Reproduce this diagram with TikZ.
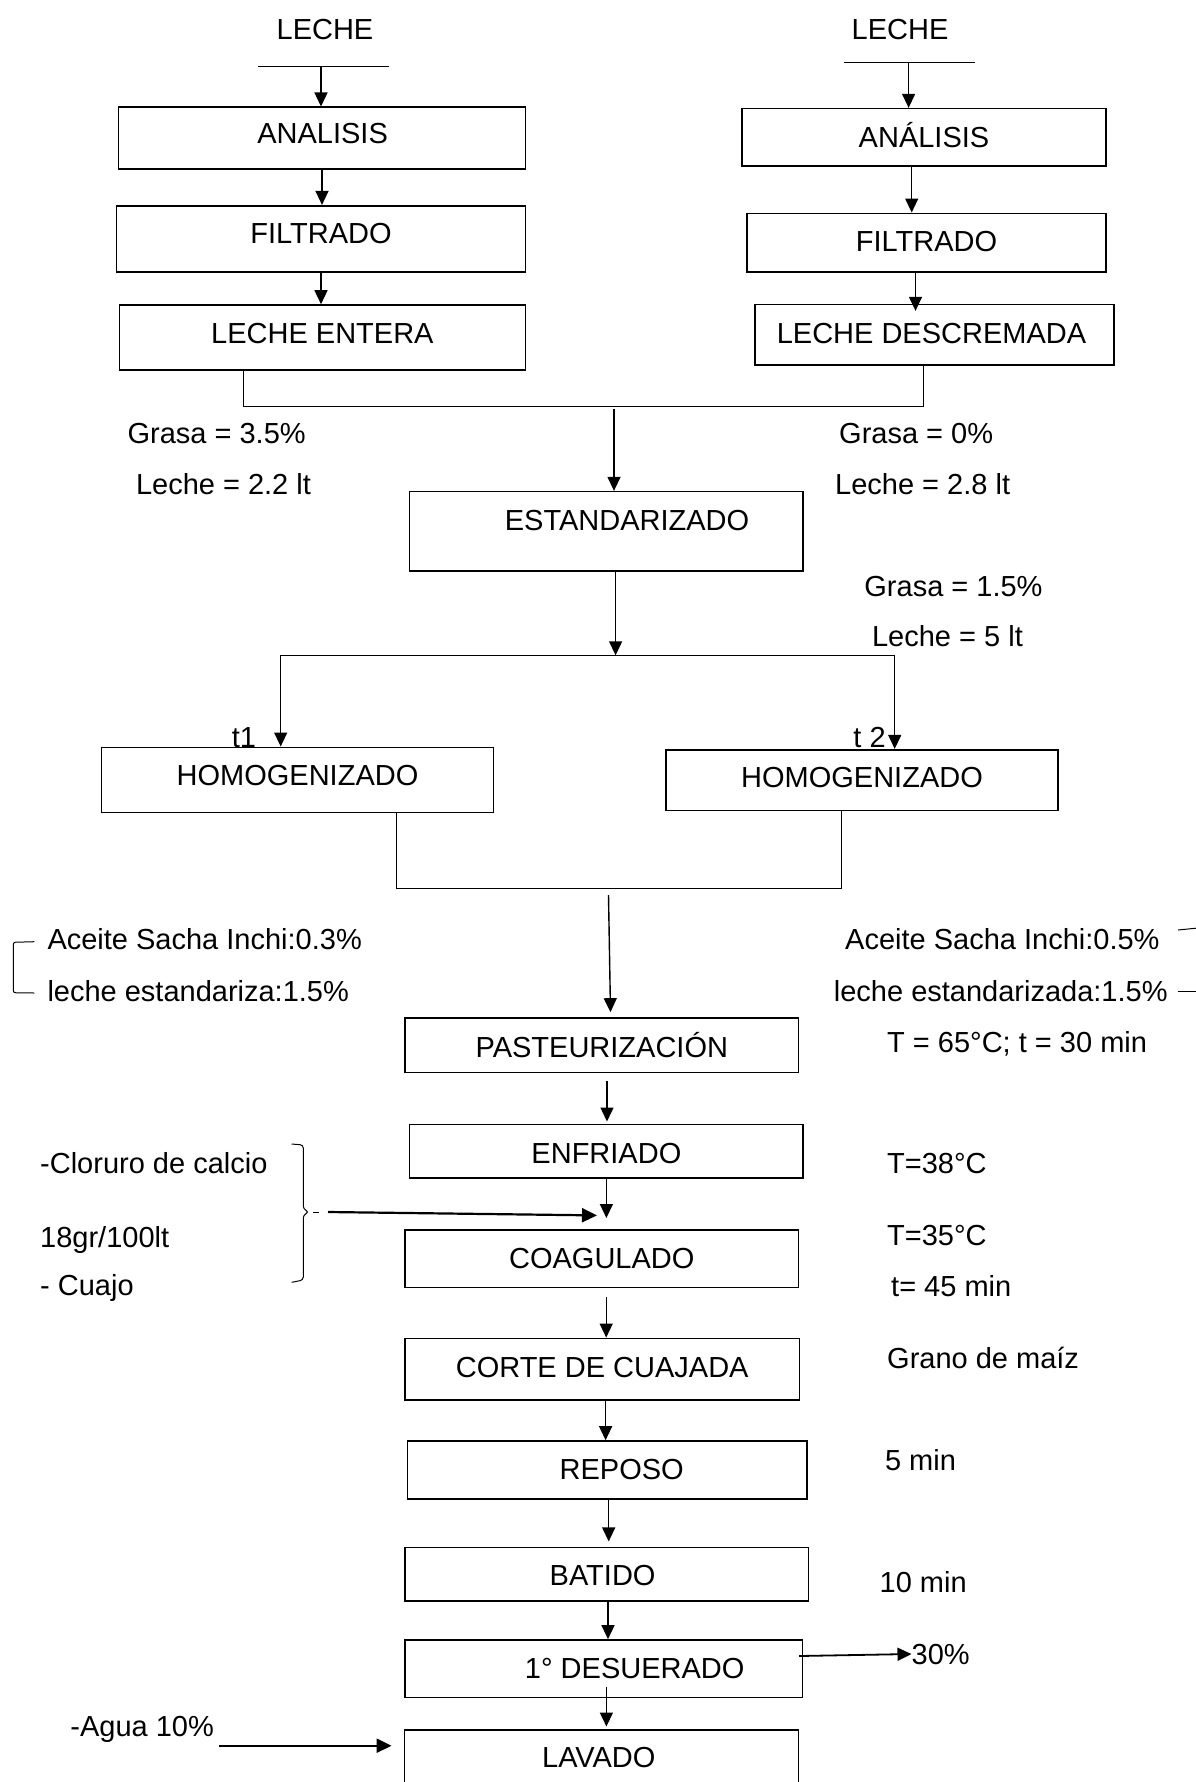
\documentclass[tikz,border=0pt]{standalone}
\usepackage{fontspec}
\setmainfont{Liberation Sans}
\usetikzlibrary{arrows.meta}
\newcommand\flowfont{\fontsize{29}{34}\selectfont}

\begin{document}
\begin{tikzpicture}[x=1pt,y=-1pt,
  stepbox/.style={draw,line width=1.6pt,inner sep=0pt},
  txt/.style={inner sep=0pt,text height=21pt,text depth=0pt,font=\flowfont},
  every label/.style={txt},
  arr/.style={-{Triangle[length=14pt,width=13pt]},line width=1.4pt},
  bigarr/.style={-{Triangle[length=15pt,width=14pt]},line width=2.2pt},
  thinl/.style={line width=1pt}]
  \useasboundingbox (0,0) rectangle (1196,1782);

  % two milks
  \node[txt] (lec1) at (325,29.3) {LECHE};
  \node[txt] (lec2) at (900,29.3) {LECHE};
  \coordinate (in1) at (321,66.7);
  \coordinate (in2) at (908.6,62.7);
  \draw[thinl] (258,66.7) -- (389,66.7);
  \draw[thinl] (843.6,62.7) -- (975,62.7);

  \node[stepbox,minimum width=407pt,minimum height=61.4pt,label={[xshift=0.6pt,yshift=4.7pt]center:ANALISIS}] (ana1) at (322,138) {};
  \node[stepbox,minimum width=408.7pt,minimum height=66pt,label={[yshift=5.4pt]center:FILTRADO}] (fil1) at (321,238.7) {};
  \node[stepbox,minimum width=406pt,minimum height=65pt,label={[yshift=4.2pt]center:LECHE ENTERA}] (ent1) at (322.4,337.5) {};
  \node[stepbox,minimum width=364pt,minimum height=57.3pt,label={[yshift=0.6pt]center:ANÁLISIS}] (ana2) at (924,137.3) {};
  \node[stepbox,minimum width=359pt,minimum height=58.4pt,label={[yshift=1.8pt]center:FILTRADO}] (fil2) at (926.5,242.5) {};
  \node[stepbox,minimum width=359pt,minimum height=60.3pt,label={[xshift=-3pt,yshift=1.5pt]center:LECHE DESCREMADA}] (des2) at (934.5,334.8) {};

  \draw[arr] (in1) -- (in1 |- ana1.north);
  \draw[arr] (ana1.south) -- (ana1.south |- fil1.north);
  \draw[arr] (fil1.south) -- (fil1.south |- ent1.north);
  \draw[arr] (in2) -- (in2 |- ana2.north);
  \draw[arr] ([xshift=-12.3pt]ana2.south) -- ([xshift=-14.8pt]fil2.north);
  \draw[arr] ([xshift=-11pt]fil2.south) -- ([xshift=-19pt,yshift=-7pt]des2.north);

  % standardizing
  \coordinate (j1) at (243.8,406.5);
  \coordinate (j2) at (923,406.5);
  \coordinate (jm) at (614,409);
  \draw[thinl] (ent1.south -| j1) -- (j1) -- (j2) -- (des2.south -| j2);
  \node[txt,anchor=west] (g1) at (127.4,433.3) {Grasa = 3.5\%};
  \node[txt,anchor=west] (l1) at (135.8,484) {Leche = 2.2 lt};
  \node[txt,anchor=west] (g2) at (839,433.3) {Grasa = 0\%};
  \node[txt,anchor=west] (l2) at (835,484) {Leche = 2.8 lt};
  \node[stepbox,minimum width=393.6pt,minimum height=79.3pt,label={[xshift=20.6pt,yshift=11.3pt]center:ESTANDARIZADO}] (est) at (606.4,531.3) {};
  \draw[arr] (jm) -- (jm |- est.north);
  \node[txt,anchor=west] (g3) at (864.2,585.7) {Grasa = 1.5\%};
  \node[txt,anchor=west] (l3) at (871.9,636) {Leche = 5 lt};

  % homogenizing
  \coordinate (sl) at (280.7,655.3);
  \coordinate (sr) at (894.7,655.3);
  \coordinate (sm) at (615.6,655.3);
  \node[stepbox,minimum width=392pt,minimum height=65pt,label={[yshift=4.8pt]center:HOMOGENIZADO}] (hom1) at (297.5,779.8) {};
  \node[stepbox,minimum width=392pt,minimum height=60.6pt,label={[yshift=2.7pt]center:HOMOGENIZADO}] (hom2) at (862,780) {};
  \draw[arr] (est.south -| sm) -- (sm);
  \draw[line width=1.2pt] (sl) -- (sr);
  \draw[arr] (sl) -- (sl |- hom1.north);
  \draw[arr] (sr) -- (sr |- hom2.north);
  \node[txt] (t1) at (244,736.7) {t1};
  \node[txt] (t2) at (869.6,736.7) {t 2};
  \coordinate (m1) at (396,888);
  \coordinate (m2) at (841.4,888);
  \coordinate (mm) at (608.5,895);
  \draw[thinl] (hom1.south -| m1) -- (m1) -- (m2) -- (hom2.south -| m2);

  \node[txt,anchor=west] (ac1) at (47.3,939.3) {Aceite Sacha Inchi:0.3\%};
  \node[txt,anchor=west] (le1) at (47.3,990.7) {leche estandariza:1.5\%};
  \node[txt,anchor=west] (ac2) at (845,939.3) {Aceite Sacha Inchi:0.5\%};
  \node[txt,anchor=west] (le2) at (833.7,990.7) {leche estandarizada:1.5\%};
  \draw[thinl,rounded corners=2pt] (34.3,941.7) -- (13.3,942.3) -- (13.3,992.7) -- (34.3,993);
  \draw[thinl] (1178,930) -- (1198,928);
  \draw[thinl] (1178,991) -- (1198,991);

  % main line
  \node[stepbox,minimum width=393.6pt,minimum height=54.7pt,label={[yshift=-1.4pt]center:PASTEURIZACIÓN}] (pas) at (601.8,1045.3) {};
  \node[stepbox,minimum width=393.6pt,minimum height=53.4pt,label={[yshift=-2.3pt]center:ENFRIADO}] (enf) at (606.4,1151) {};
  \node[stepbox,minimum width=393.6pt,minimum height=57.7pt,label={[yshift=0.5pt]center:COAGULADO}] (coa) at (601.8,1258.8) {};
  \node[stepbox,minimum width=394.4pt,minimum height=61.7pt,label={[yshift=2.5pt]center:CORTE DE CUAJADA}] (cor) at (602.2,1369.2) {};
  \node[stepbox,minimum width=399.7pt,minimum height=58pt,label={[xshift=14.5pt,yshift=1pt]center:REPOSO}] (rep) at (607.2,1470) {};
  \node[stepbox,minimum width=403.5pt,minimum height=53.3pt,label={[xshift=-4.2pt,yshift=-0.7pt]center:BATIDO}] (bat) at (606.8,1574.3) {};
  \node[stepbox,minimum width=397.4pt,minimum height=57.7pt,label={[xshift=31pt,yshift=1pt]center:1° DESUERADO}] (des1) at (603.7,1668.8) {};
  \node[stepbox,minimum width=394.3pt,minimum height=70pt,label={[xshift=-2.7pt,yshift=7.7pt]center:LAVADO}] (lav) at (601.5,1765) {};

  \node[txt,anchor=west] (tp) at (887,1041.7) {T = 65°C; t = 30 min};
  \node[txt,anchor=west] (t38) at (887,1163.3) {T=38°C};
  \node[txt,anchor=west] (t35) at (887,1235) {T=35°C};
  \node[txt,anchor=west] (t45) at (891,1286) {t= 45 min};
  \node[txt,anchor=west] (gra) at (887,1358.3) {Grano de maíz};
  \node[txt,anchor=west] (m5) at (884.8,1460) {5 min};
  \node[txt,anchor=west] (m10) at (879.5,1581.7) {10 min};
  \node[txt,anchor=west] (p30) at (911.5,1654) {30\%};
  \node[txt,anchor=west] (clo) at (40,1163.3) {-Cloruro de calcio};
  \node[txt,anchor=west] (dos) at (40,1236.7) {18gr/100lt};
  \node[txt,anchor=west] (cua) at (40,1285) {- Cuajo};
  \node[txt,anchor=west] (agu) at (70.2,1726) {-Agua 10\%};

  \draw[arr] (mm) -- ([xshift=8.7pt,yshift=5pt]pas.north);
  \draw[arr] ([xshift=5.2pt,yshift=-8pt]pas.south) -- ([xshift=0.6pt,yshift=2pt]enf.north);
  \coordinate (cj) at (606.4,1218);
  \coordinate (ca) at (328,1212);
  \coordinate (ce) at (597,1215.4);
  \draw[arr] (enf.south) -- (cj);
  \draw[thinl,rounded corners=3pt] (291.7,1144) -- (303.3,1145) -- (303.3,1209) -- (309,1212) -- (303.3,1215) -- (303.3,1280) -- (291.7,1282.3);
  \draw[thinl] (313,1212) -- (319,1212);
  \draw[bigarr] (ca) -- (ce);
  \draw[arr] ([xshift=4.4pt,yshift=-9pt]coa.south) -- ([xshift=4pt]cor.north);
  \draw[arr] ([xshift=3.4pt]cor.south) -- ([xshift=-1.6pt]rep.north);
  \draw[arr] ([xshift=1.5pt]rep.south) -- ([xshift=1.9pt,yshift=5.4pt]bat.north);
  \draw[arr] ([xshift=1.2pt]bat.south) -- ([xshift=4.3pt]des1.north);
  \draw[arr] ([xshift=2.7pt,yshift=11pt]des1.south) -- ([xshift=4.9pt,yshift=2.7pt]lav.north);
  \draw[arr,line width=1.8pt] ([xshift=-4pt,yshift=12.8pt]des1.east) -- (p30.west);
  \coordinate (ag) at (219.3,1745.7);
  \draw[bigarr,shorten >=12pt] (ag) -- (ag -| lav.west);
\end{tikzpicture}
\end{document}
